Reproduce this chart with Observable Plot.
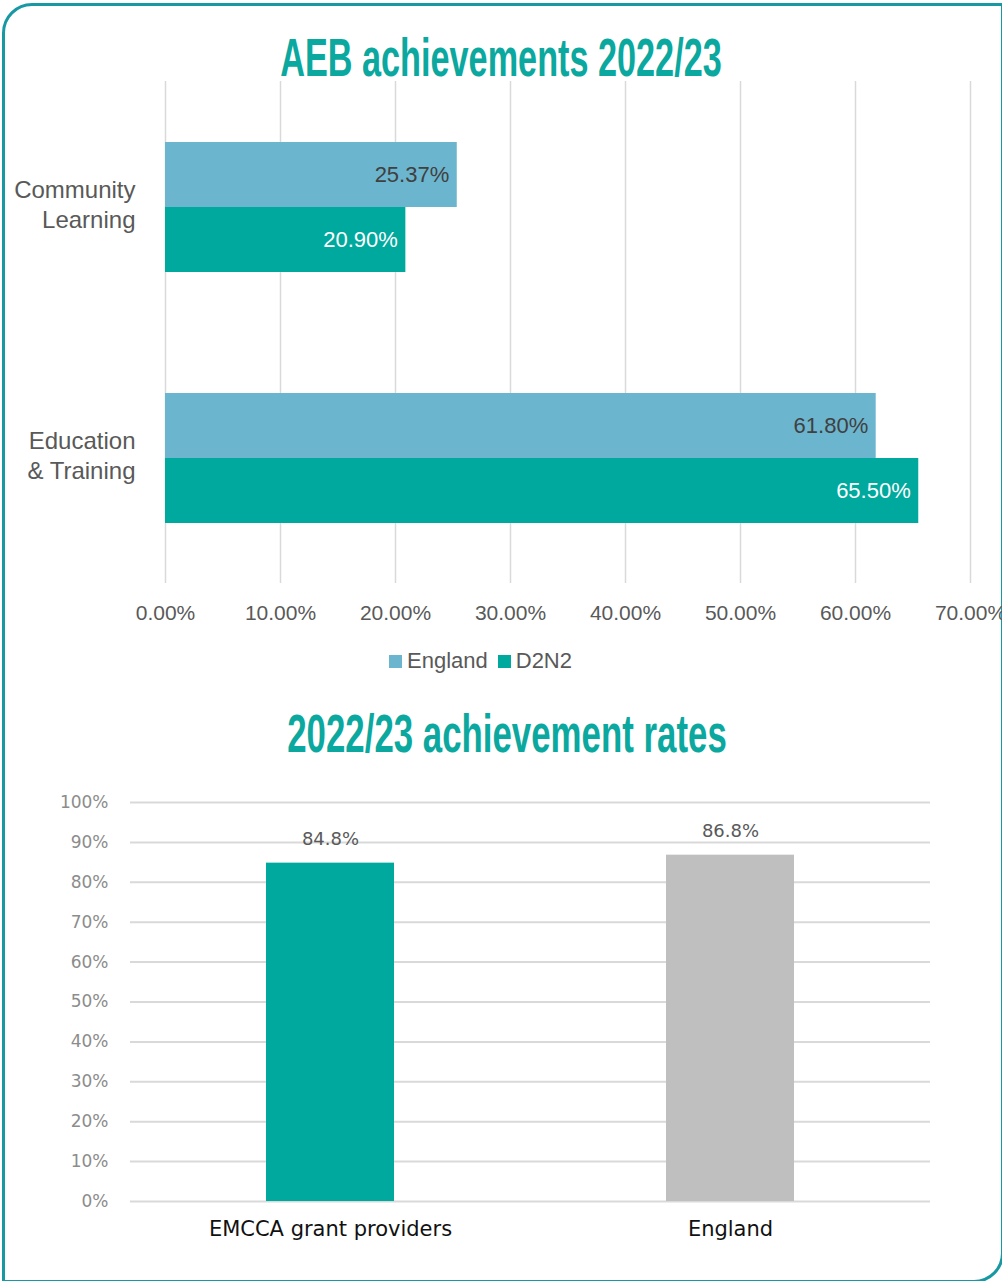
<!DOCTYPE html>
<html>
<head>
<meta charset="utf-8">
<script src="https://cdn.jsdelivr.net/npm/d3@7"></script>
<script src="https://cdn.jsdelivr.net/npm/@observablehq/plot@0.6"></script>
<style>
  html, body { margin: 0; padding: 0; background: #fff; width: 1002px; height: 1281px; overflow: hidden; position: relative; }
  #card { position: absolute; left: 2px; top: 3px; width: 1002px; height: 1280px; box-sizing: border-box;
          border: 3px solid #1898a3; border-radius: 30px 0 30px 0; }
  .title { position: absolute; left: 0; width: 1002px; text-align: center; white-space: nowrap;
           font-family: "Liberation Sans", Arial, sans-serif; font-weight: bold;
           font-size: 54px; line-height: 1; color: #0aa89e; transform: scaleX(0.634); }
  #chart1 { position: absolute; left: 0; top: 60px; }
  #chart2 { position: absolute; left: 0; top: 780px; }
  #legend { position: absolute; left: 389px; top: 648px; display: flex; align-items: center;
            font-family: "Liberation Sans", Arial, sans-serif; font-size: 22px; color: #595959; }
  #legend .sw { width: 13px; height: 13px; margin-right: 5px; }
  #legend .item { display: flex; align-items: center; margin-right: 10px; }
</style>
</head>
<body>
<div id="card"></div>
<div class="title" id="title1" style="top:30px; left:0px;">AEB achievements 2022/23</div>
<div id="chart1"></div>
<div id="legend"></div>
<div class="title" id="title2" style="top:706px; left:6px; transform: scaleX(0.645);">2022/23 achievement rates</div>
<div id="chart2"></div>
<script>
// ---------- Data: chart 1 ----------
const categories = ["Community Learning", "Education & Training"];
const categoryLabels = ["Community\nLearning", "Education\n& Training"];
const series = ["England", "D2N2"];
const englandValues = [0.2537, 0.618];
const d2n2Values = [0.209, 0.655];
const seriesColors = ["#6cb5cf", "#00a99d"];
const xTicks = [0, 0.1, 0.2, 0.3, 0.4, 0.5, 0.6, 0.7];

// ---------- Data: chart 2 ----------
const providers = ["EMCCA grant providers", "England"];
const rates = [0.848, 0.868];
const providerColors = ["#00a99d", "#bfbfbf"];
const yTicks = [0, 0.1, 0.2, 0.3, 0.4, 0.5, 0.6, 0.7, 0.8, 0.9, 1.0];

const rows1 = categories.flatMap((c, i) => [
  {category: c, series: series[0], value: englandValues[i]},
  {category: c, series: series[1], value: d2n2Values[i]}
]);
const pct2 = d => (d * 100).toFixed(2) + "%";

const chart1 = Plot.plot({
  width: 1002, height: 580,
  marginTop: 21, marginBottom: 57, marginLeft: 165, marginRight: 32,
  style: {fontFamily: "'Liberation Sans', Arial, sans-serif", background: "transparent"},
  x: {domain: [0, 0.7]},
  fy: {domain: categories, padding: 0},
  y: {domain: series, paddingInner: 0, paddingOuter: 0.916, axis: null},
  color: {domain: series, range: seriesColors},
  marks: [
    Plot.gridX(xTicks, {stroke: "#d9d9d9", strokeOpacity: 1, strokeWidth: 1.5}),
    Plot.barX(rows1, {x: "value", y: "series", fy: "category", fill: "series"}),
    Plot.text(rows1.filter(d => d.series === series[0]), {x: "value", y: "series", fy: "category", text: d => pct2(d.value),
      textAnchor: "end", dx: -8, fill: "#404040", fontSize: 22}),
    Plot.text(rows1.filter(d => d.series === series[1]), {x: "value", y: "series", fy: "category", text: d => pct2(d.value),
      textAnchor: "end", dx: -8, fill: "#ffffff", fontSize: 22}),
    Plot.axisX(xTicks, {tickFormat: pct2, tickSize: 0, tickPadding: 22, fontSize: 21, fill: "#595959", label: null}),
    Plot.axisFy({anchor: "left", tickFormat: d => categoryLabels[categories.indexOf(d)], tickSize: 0, tickPadding: 30,
      dy: -4, fontSize: 24, lineHeight: 1.25, fill: "#595959", label: null})
  ]
});
document.getElementById("chart1").appendChild(chart1);

// legend
const legend = document.getElementById("legend");
series.forEach((s, i) => {
  const item = document.createElement("div");
  item.className = "item";
  const sw = document.createElement("div");
  sw.className = "sw";
  sw.style.background = seriesColors[i];
  const t = document.createElement("span");
  t.textContent = s;
  item.appendChild(sw); item.appendChild(t);
  legend.appendChild(item);
});

const rows2 = providers.map((p, i) => ({provider: p, rate: rates[i]}));

const chart2 = Plot.plot({
  width: 1002, height: 471,
  marginTop: 22, marginBottom: 50, marginLeft: 130, marginRight: 72,
  style: {fontFamily: "'DejaVu Sans', sans-serif", background: "transparent"},
  x: {domain: providers, paddingInner: 0.68, paddingOuter: 0.34},
  y: {domain: [0, 1]},
  color: {domain: providers, range: providerColors},
  marks: [
    Plot.gridY(yTicks, {stroke: "#d9d9d9", strokeOpacity: 1, strokeWidth: 2}),
    Plot.barY(rows2, {x: "provider", y: "rate", fill: "provider"}),
    Plot.text(rows2, {x: "provider", y: "rate", text: d => (d.rate * 100).toFixed(1) + "%", dy: -24,
      fontSize: 18, fill: "#595959"}),
    Plot.axisY(yTicks, {tickFormat: d => Math.round(d * 100) + "%", tickSize: 0, tickPadding: 22,
      fontSize: 17, fill: "#8c8c8c", label: null}),
    Plot.axisX({tickSize: 0, tickPadding: 20, fontSize: 21, fill: "#111", label: null})
  ]
});
document.getElementById("chart2").appendChild(chart2);
</script>
</body>
</html>
